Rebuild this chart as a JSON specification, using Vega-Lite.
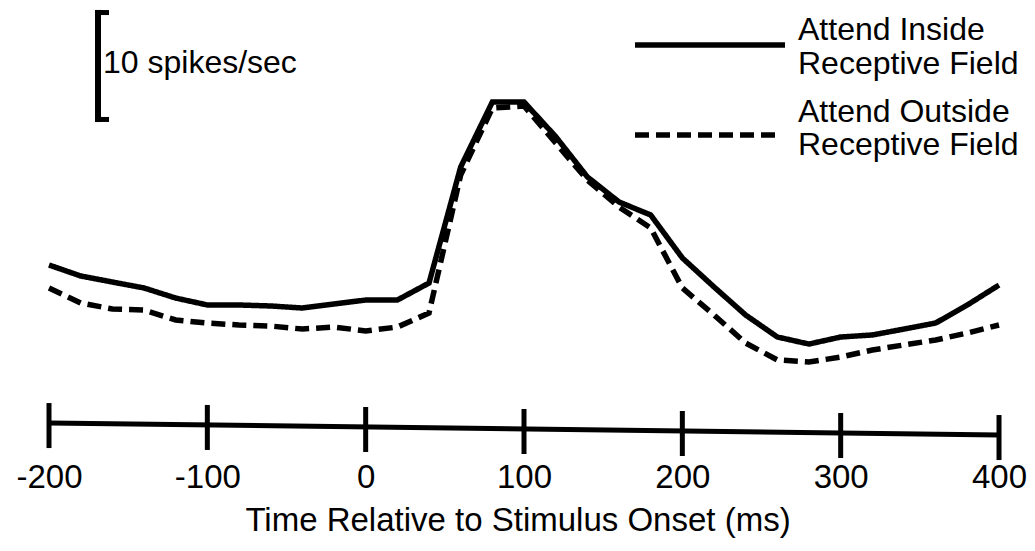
{
  "$schema": "https://vega.github.io/schema/vega-lite/v6.json",
  "width": 1035,
  "height": 440,
  "padding": {"left": 0, "top": 0, "right": 0, "bottom": 111},
  "autosize": {"type": "none"},
  "background": "white",
  "config": {
    "view": {"stroke": null},
    "axis": {
      "labelFont": "Liberation Sans",
      "titleFont": "Liberation Sans",
      "labelColor": "black",
      "titleColor": "black"
    }
  },
  "datasets": {
    "curves": [
      {"x": -200, "y": 15.63, "series": "Attend Inside"},
      {"x": -180, "y": 14.65, "series": "Attend Inside"},
      {"x": -160, "y": 14.11, "series": "Attend Inside"},
      {"x": -140, "y": 13.58, "series": "Attend Inside"},
      {"x": -120, "y": 12.68, "series": "Attend Inside"},
      {"x": -100, "y": 12.06, "series": "Attend Inside"},
      {"x": -80, "y": 12.06, "series": "Attend Inside"},
      {"x": -60, "y": 11.97, "series": "Attend Inside"},
      {"x": -40, "y": 11.79, "series": "Attend Inside"},
      {"x": -20, "y": 12.15, "series": "Attend Inside"},
      {"x": 0, "y": 12.5, "series": "Attend Inside"},
      {"x": 20, "y": 12.5, "series": "Attend Inside"},
      {"x": 40, "y": 14.02, "series": "Attend Inside"},
      {"x": 60, "y": 24.38, "series": "Attend Inside"},
      {"x": 80, "y": 30.19, "series": "Attend Inside"},
      {"x": 100, "y": 30.19, "series": "Attend Inside"},
      {"x": 120, "y": 27.1, "series": "Attend Inside"},
      {"x": 140, "y": 23.5, "series": "Attend Inside"},
      {"x": 160, "y": 21.26, "series": "Attend Inside"},
      {"x": 180, "y": 20.1, "series": "Attend Inside"},
      {"x": 200, "y": 16.26, "series": "Attend Inside"},
      {"x": 220, "y": 13.67, "series": "Attend Inside"},
      {"x": 240, "y": 11.16, "series": "Attend Inside"},
      {"x": 260, "y": 9.2, "series": "Attend Inside"},
      {"x": 280, "y": 8.57, "series": "Attend Inside"},
      {"x": 300, "y": 9.2, "series": "Attend Inside"},
      {"x": 320, "y": 9.38, "series": "Attend Inside"},
      {"x": 340, "y": 9.91, "series": "Attend Inside"},
      {"x": 360, "y": 10.45, "series": "Attend Inside"},
      {"x": 380, "y": 12.06, "series": "Attend Inside"},
      {"x": 400, "y": 13.84, "series": "Attend Inside"},
      {"x": -200, "y": 13.58, "series": "Attend Outside"},
      {"x": -180, "y": 12.24, "series": "Attend Outside"},
      {"x": -160, "y": 11.7, "series": "Attend Outside"},
      {"x": -140, "y": 11.61, "series": "Attend Outside"},
      {"x": -120, "y": 10.72, "series": "Attend Outside"},
      {"x": -100, "y": 10.45, "series": "Attend Outside"},
      {"x": -80, "y": 10.27, "series": "Attend Outside"},
      {"x": -60, "y": 10.18, "series": "Attend Outside"},
      {"x": -40, "y": 9.91, "series": "Attend Outside"},
      {"x": -20, "y": 10.09, "series": "Attend Outside"},
      {"x": 0, "y": 9.74, "series": "Attend Outside"},
      {"x": 20, "y": 10.09, "series": "Attend Outside"},
      {"x": 40, "y": 11.34, "series": "Attend Outside"},
      {"x": 60, "y": 23.67, "series": "Attend Outside"},
      {"x": 80, "y": 29.65, "series": "Attend Outside"},
      {"x": 100, "y": 29.83, "series": "Attend Outside"},
      {"x": 120, "y": 26.53, "series": "Attend Outside"},
      {"x": 140, "y": 23.22, "series": "Attend Outside"},
      {"x": 160, "y": 20.81, "series": "Attend Outside"},
      {"x": 180, "y": 18.94, "series": "Attend Outside"},
      {"x": 200, "y": 13.58, "series": "Attend Outside"},
      {"x": 220, "y": 11.16, "series": "Attend Outside"},
      {"x": 240, "y": 8.66, "series": "Attend Outside"},
      {"x": 260, "y": 7.15, "series": "Attend Outside"},
      {"x": 280, "y": 6.97, "series": "Attend Outside"},
      {"x": 300, "y": 7.41, "series": "Attend Outside"},
      {"x": 320, "y": 8.04, "series": "Attend Outside"},
      {"x": 340, "y": 8.49, "series": "Attend Outside"},
      {"x": 360, "y": 8.93, "series": "Attend Outside"},
      {"x": 380, "y": 9.56, "series": "Attend Outside"},
      {"x": 400, "y": 10.27, "series": "Attend Outside"}
    ],
    "axisline": [
      {"x": -200, "y": 1.52},
      {"x": 400, "y": 0.45}
    ],
    "ticks": [
      {"x": -200, "y": 3.3, "y2": -0.72},
      {"x": -100, "y": 3.13, "y2": -0.89},
      {"x": 0, "y": 2.95, "y2": -1.07},
      {"x": 100, "y": 2.77, "y2": -1.25},
      {"x": 200, "y": 2.59, "y2": -1.43},
      {"x": 300, "y": 2.41, "y2": -1.61},
      {"x": 400, "y": 2.23, "y2": -1.79}
    ],
    "scalebar": [
      {"x": -169.06, "y": 38.41, "y2": 28.4}
    ],
    "serifs": [
      {"x": -170.95, "x2": -162.1, "y": 38.18},
      {"x": -170.95, "x2": -162.1, "y": 28.63}
    ],
    "legendlines": [
      {"x": 170.1, "x2": 264.84, "y": 35.29, "series": "Attend Inside"},
      {"x": 170.1, "x2": 260.0, "y": 27.24, "series": "Attend Outside"}
    ],
    "labels": [
      {"x": -165.9, "y": 32.78, "text": "10 spikes/sec"},
      {"x": 273.05, "y": 35.7, "text": "Attend Inside"},
      {"x": 273.05, "y": 32.69, "text": "Receptive Field"},
      {"x": 273.05, "y": 28.4, "text": "Attend Outside"},
      {"x": 273.05, "y": 25.46, "text": "Receptive Field"}
    ]
  },
  "encoding": {
    "x": {
      "field": "x",
      "type": "quantitative",
      "scale": {"domain": [-230.95, 422.73], "nice": false, "zero": false},
      "axis": {
        "values": [-200, -100, 0, 100, 200, 300, 400],
        "labelExpr": "'' + datum.value",
        "domain": false,
        "ticks": false,
        "grid": false,
        "labelFontSize": 33,
        "labelPadding": 21,
        "labelFlush": false,
        "labelOverlap": false,
        "title": "Time Relative to Stimulus Onset (ms)",
        "titleFontSize": 33,
        "titleFontWeight": "normal",
        "titlePadding": 10
      }
    },
    "y": {
      "field": "y",
      "type": "quantitative",
      "scale": {"domain": [0, 39.3], "nice": false, "zero": false},
      "axis": null
    }
  },
  "layer": [
    {
      "data": {"name": "curves"},
      "mark": {"type": "line", "color": "black", "strokeWidth": 5.5, "strokeCap": "butt", "strokeJoin": "miter"},
      "encoding": {
        "strokeDash": {
          "field": "series",
          "type": "nominal",
          "scale": {"domain": ["Attend Inside", "Attend Outside"], "range": [[1, 0], [14, 7]]},
          "legend": null
        }
      }
    },
    {
      "data": {"name": "axisline"},
      "mark": {"type": "line", "color": "black", "strokeWidth": 5, "strokeCap": "butt"},
      "encoding": {}
    },
    {
      "data": {"name": "ticks"},
      "mark": {"type": "rule", "color": "black", "strokeWidth": 5},
      "encoding": {"y2": {"field": "y2"}}
    },
    {
      "data": {"name": "scalebar"},
      "mark": {"type": "rule", "color": "black", "strokeWidth": 6},
      "encoding": {"y2": {"field": "y2"}}
    },
    {
      "data": {"name": "serifs"},
      "mark": {"type": "rule", "color": "black", "strokeWidth": 5},
      "encoding": {"x2": {"field": "x2"}}
    },
    {
      "data": {"name": "legendlines"},
      "mark": {"type": "rule", "color": "black", "strokeWidth": 5.5, "strokeCap": "butt"},
      "encoding": {
        "x2": {"field": "x2"},
        "strokeDash": {
          "field": "series",
          "type": "nominal",
          "scale": {"domain": ["Attend Inside", "Attend Outside"], "range": [[1, 0], [15, 6]]},
          "legend": null
        }
      }
    },
    {
      "data": {"name": "labels"},
      "mark": {"type": "text", "font": "Liberation Sans", "fontSize": 32, "align": "left", "baseline": "alphabetic", "color": "black"},
      "encoding": {"text": {"field": "text"}}
    }
  ]
}
